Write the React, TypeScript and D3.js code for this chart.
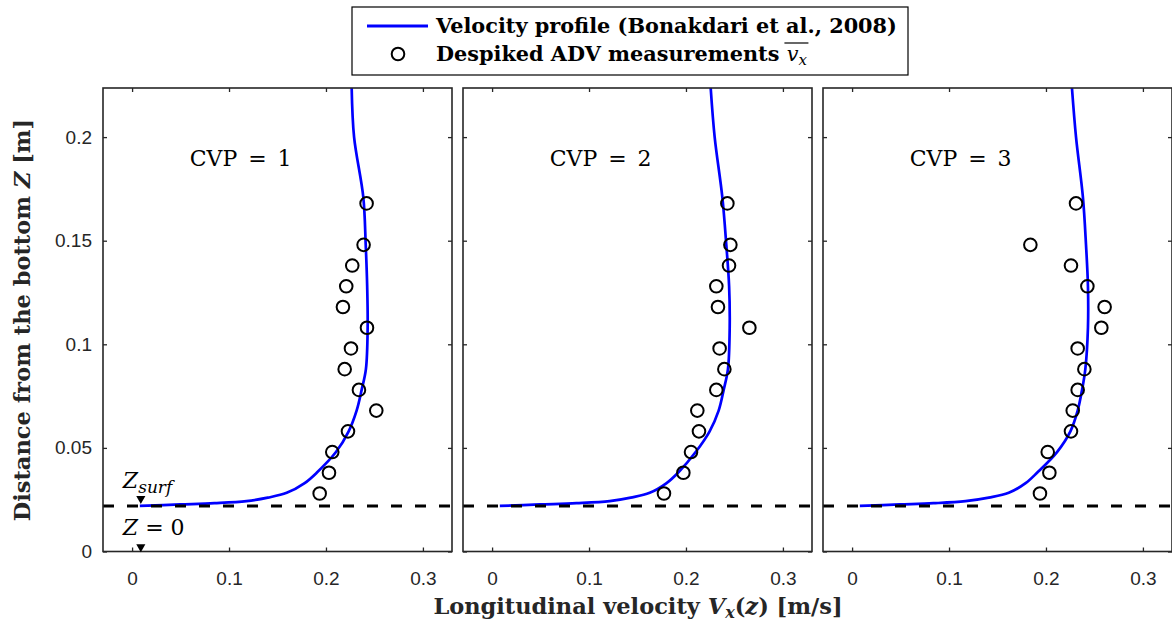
import React, { useEffect, useRef } from 'react'
import * as d3 from 'd3'

// measurement heights above the bottom [m], shared by all three CVPs
const heights = [0.028, 0.038, 0.048, 0.058, 0.068, 0.078, 0.088, 0.098, 0.108, 0.118, 0.128, 0.138, 0.148, 0.168]

// despiked ADV mean velocities [m/s], one value per height
const measured1 = [0.1935, 0.2031, 0.2065, 0.2227, 0.2519, 0.234, 0.2193, 0.2258, 0.2423, 0.2175, 0.2209, 0.2271, 0.2388, 0.2419]
const measured2 = [0.1773, 0.1973, 0.2052, 0.2134, 0.2117, 0.2313, 0.2396, 0.2347, 0.2654, 0.233, 0.2313, 0.2444, 0.2458, 0.2427]
const measured3 = [0.1938, 0.2035, 0.2018, 0.2258, 0.2276, 0.2327, 0.2396, 0.2327, 0.2571, 0.2605, 0.2427, 0.2258, 0.1839, 0.231]

// velocity profile (Bonakdari et al., 2008)
const profileZ = [0.022, 0.0227, 0.0233, 0.0243, 0.026, 0.0283, 0.033, 0.038, 0.048, 0.058, 0.068, 0.078, 0.088, 0.108, 0.128, 0.148, 0.171, 0.2, 0.2237]
const profile1 = [0.008, 0.0495, 0.085, 0.118, 0.14, 0.1595, 0.178, 0.1904, 0.2103, 0.2234, 0.2316, 0.2368, 0.2412, 0.243, 0.2425, 0.241, 0.2385, 0.229, 0.2265]
const profile2 = [0.008, 0.049, 0.087, 0.1213, 0.143, 0.1626, 0.18, 0.1918, 0.21, 0.2244, 0.2337, 0.2389, 0.2433, 0.2451, 0.2445, 0.2416, 0.2375, 0.2296, 0.2255]
const profile3 = [0.008, 0.049, 0.084, 0.117, 0.141, 0.1616, 0.179, 0.1908, 0.2114, 0.2252, 0.2327, 0.2372, 0.2406, 0.2433, 0.2433, 0.2413, 0.2381, 0.231, 0.2268]

const panelNames = ['1', '2', '3']
const measured = [measured1, measured2, measured3]
const profiles = [profile1, profile2, profile3]

const xTicks = [0, 0.1, 0.2, 0.3]
const yTicks = [0, 0.05, 0.1, 0.15, 0.2]
const surfaceZ = 0.022

const serif = "'DejaVu Serif', 'Liberation Serif', serif"
const sans = "'Liberation Sans', Arial, sans-serif"
const axisColor = '#262626'

function drawChart(el: SVGSVGElement) {
    const svg = d3.select(el)
    svg.selectAll('*').remove()

    const panelW = 349
    const panelStep = 360
    const top = 88
    const bottom = 551.5

    const y = d3.scaleLinear().domain([0, 0.2237]).range([bottom, top])

    panelNames.forEach((name, i) => {
        const left = 103 + i * panelStep
        const x = d3.scaleLinear().domain([-0.03, 0.33]).range([left, left + panelW])
        const g = svg.append('g')

        g.append('rect')
            .attr('x', left).attr('y', top)
            .attr('width', panelW).attr('height', bottom - top)
            .attr('fill', '#fff')

        // profile curve
        const line = d3.line<[number, number]>()
            .x(d => x(d[0]))
            .y(d => y(d[1]))
            .curve(d3.curveCatmullRom.alpha(0.5))
        g.append('path')
            .datum(d3.zip(profiles[i], profileZ) as [number, number][])
            .attr('d', line)
            .attr('fill', 'none')
            .attr('stroke', '#0000ff')
            .attr('stroke-width', 2.7)

        // water surface level
        g.append('line')
            .attr('x1', left).attr('x2', left + panelW)
            .attr('y1', y(surfaceZ)).attr('y2', y(surfaceZ))
            .attr('stroke', '#000')
            .attr('stroke-width', 3)
            .attr('stroke-dasharray', '11,13')

        // ADV points
        g.selectAll('circle.pt')
            .data(d3.zip(measured[i], heights))
            .enter().append('circle')
            .attr('class', 'pt')
            .attr('cx', d => x(d[0]))
            .attr('cy', d => y(d[1]))
            .attr('r', 6.3)
            .attr('fill', 'none')
            .attr('stroke', '#000')
            .attr('stroke-width', 2)

        // axes, ticks pointing inward on all four sides
        const fmt = d3.format('~g')
        const xb = g.append('g')
            .attr('transform', `translate(0,${bottom})`)
            .call(d3.axisBottom(x).tickValues(xTicks).tickSize(-4).tickPadding(20).tickFormat(d => fmt(d as number)))
        const xt = g.append('g')
            .attr('transform', `translate(0,${top})`)
            .call(d3.axisTop(x).tickValues(xTicks).tickSize(-4).tickFormat(() => ''))
        const yl = g.append('g')
            .attr('transform', `translate(${left},0)`)
            .call(d3.axisLeft(y).tickValues(yTicks).tickSize(-4).tickPadding(11).tickFormat(d => i === 0 ? fmt(d as number) : ''))
        const yr = g.append('g')
            .attr('transform', `translate(${left + panelW},0)`)
            .call(d3.axisRight(y).tickValues(yTicks).tickSize(-4).tickFormat(() => ''))
        ;[xb, xt, yl, yr].forEach(a => {
            a.select('.domain').remove()
            a.selectAll('line').attr('stroke', axisColor).attr('stroke-width', 1.3)
            a.selectAll('text').attr('fill', axisColor).style('font-family', sans).style('font-size', '19px')
        })

        g.append('rect')
            .attr('x', left).attr('y', top)
            .attr('width', panelW).attr('height', bottom - top)
            .attr('fill', 'none')
            .attr('stroke', axisColor)
            .attr('stroke-width', 1.6)

        g.append('text')
            .attr('x', x(0.112)).attr('y', y(0.19) + 8)
            .attr('text-anchor', 'middle')
            .style('font-family', serif)
            .style('font-size', '22px')
            .style('word-spacing', '4px')
            .attr('fill', '#000')
            .text(`CVP = ${name}`)

        if (i === 0) {
            const tri = d3.symbol().type(d3.symbolTriangle).size(36)
            ;[0.0255, 0.0022].forEach(z => {
                g.append('path')
                    .attr('d', tri)
                    .attr('transform', `translate(${x(0.009)},${y(z)}) rotate(180)`)
                    .attr('fill', '#000')
            })
            const zs = g.append('text')
                .attr('x', x(-0.0095)).attr('y', y(0.03) - 1)
                .style('font-family', serif).style('font-size', '22px').style('font-style', 'italic')
            zs.append('tspan').text('Z')
            zs.append('tspan').attr('dy', 5).style('font-size', '17px').text('surf')
            const z0 = g.append('text')
                .attr('x', x(-0.0095)).attr('y', y(0.008))
                .style('font-family', serif).style('font-size', '22px')
            z0.append('tspan').style('font-style', 'italic').text('Z')
            z0.append('tspan').text(' = 0')
        }
    })

    // axis titles
    const xl = svg.append('text')
        .attr('x', 638).attr('y', 614)
        .attr('text-anchor', 'middle')
        .style('font-family', serif).style('font-size', '22.5px').style('font-weight', 'bold')
        .attr('fill', '#262626')
    xl.append('tspan').text('Longitudinal velocity ')
    xl.append('tspan').style('font-style', 'italic').text('V')
    xl.append('tspan').attr('dy', 4).style('font-size', '16px').style('font-style', 'italic').text('x')
    xl.append('tspan').attr('dy', -4).text('(')
    xl.append('tspan').style('font-style', 'italic').text('z')
    xl.append('tspan').text(') [m/s]')

    const ylab = svg.append('text')
        .attr('transform', 'translate(30,320) rotate(-90)')
        .attr('text-anchor', 'middle')
        .style('font-family', serif).style('font-size', '22.5px').style('font-weight', 'bold')
        .attr('fill', '#262626')
    ylab.append('tspan').text('Distance from the bottom ')
    ylab.append('tspan').style('font-style', 'italic').text('Z')
    ylab.append('tspan').text(' [m]')

    // legend
    const lg = svg.append('g')
    lg.append('rect')
        .attr('x', 352).attr('y', 7).attr('width', 556).attr('height', 68)
        .attr('fill', '#fff').attr('stroke', '#000').attr('stroke-width', 1.2)
    lg.append('line')
        .attr('x1', 367).attr('x2', 428).attr('y1', 26).attr('y2', 26)
        .attr('stroke', '#0000ff').attr('stroke-width', 3)
    lg.append('circle')
        .attr('cx', 398).attr('cy', 54).attr('r', 6.3)
        .attr('fill', 'none').attr('stroke', '#000').attr('stroke-width', 2)
    lg.append('text')
        .attr('x', 436).attr('y', 33)
        .style('font-family', serif).style('font-size', '20.8px').style('font-weight', 'bold')
        .text('Velocity profile (Bonakdari et al., 2008)')
    const t2 = lg.append('text')
        .attr('x', 436).attr('y', 61)
        .style('font-family', serif).style('font-size', '20.8px').style('font-weight', 'bold')
    t2.append('tspan').text('Despiked ADV measurements ')
    t2.append('tspan').style('font-style', 'italic').style('font-weight', 'normal').text('v')
    t2.append('tspan').attr('dy', 4).style('font-size', '15px').style('font-style', 'italic').style('font-weight', 'normal').text('x')
    // overline over v_x
    const bb = (t2.node() as SVGTextElement).getBBox()
    lg.append('line')
        .attr('x1', bb.x + bb.width - 23).attr('x2', bb.x + bb.width + 1)
        .attr('y1', 43).attr('y2', 43)
        .attr('stroke', '#000').attr('stroke-width', 1.2)
}

export default function App() {
    const ref = useRef<SVGSVGElement>(null)
    useEffect(() => {
        if (ref.current) drawChart(ref.current)
    }, [])
    return (
        <svg ref={ref} width={1172} height={626}
            style={{ position: 'absolute', left: 0, top: 0, background: '#fff', display: 'block' }} />
    )
}
